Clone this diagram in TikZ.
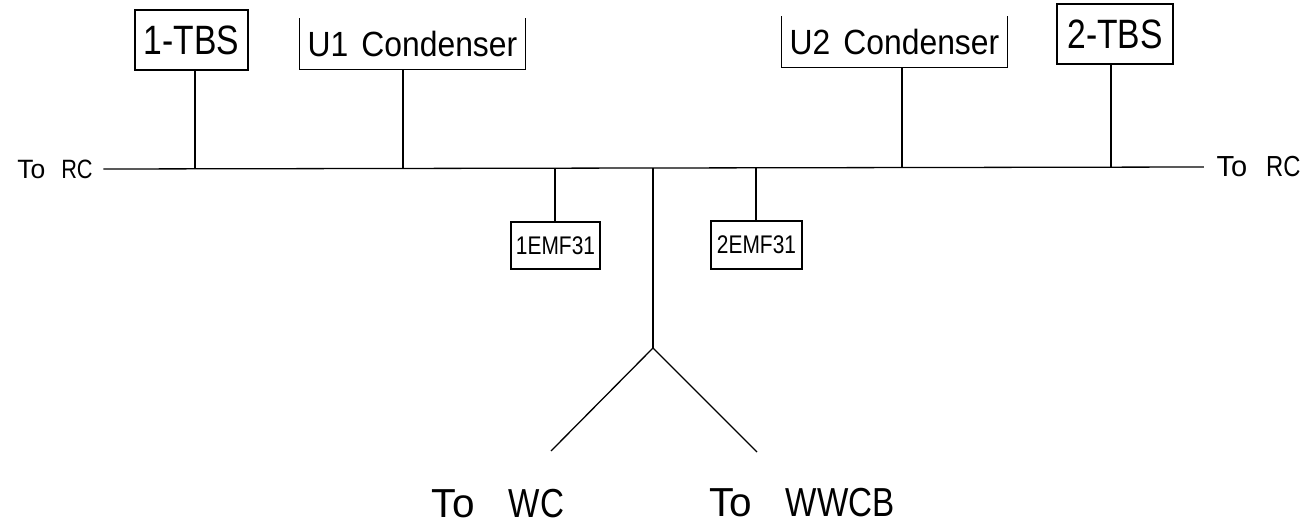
\documentclass[tikz,border=0pt]{standalone}
\usepackage{fontspec}
\setmainfont{Liberation Sans}
\newfontfamily\narrowfont{Liberation Sans}[FakeStretch=0.82]
\newfontfamily\midfont{Liberation Sans}[FakeStretch=0.91]
\begin{document}
\begin{tikzpicture}[x=1pt,y=-1pt,line width=1.3pt,
  boxed/.style={draw,rectangle,inner sep=0pt},
  openbox/.style={rectangle,inner sep=0pt,minimum width=225pt,minimum height=50pt,
     font=\midfont\fontsize{35}{35}\selectfont},
  tbsfont/.style={font=\narrowfont\fontsize{41}{41}\selectfont},
  emffont/.style={font=\narrowfont\fontsize{25.5}{25.5}\selectfont},
  bigtext/.style={inner sep=0pt,font=\fontsize{40.5}{40.5}\selectfont}]
\useasboundingbox (0,0) rectangle (1315,527);

% boxes
\node[boxed,tbsfont,minimum width=113pt,minimum height=60pt] (tbs1) at (191.5,40) {1-TBS};
\node[boxed,tbsfont,minimum width=116pt,minimum height=60pt] (tbs2) at (1115,34) {2-TBS};
\node[openbox] (u1) at (412.5,44) {U1\hspace{13pt}Condenser};
\node[openbox] (u2) at (894.5,42) {U2\hspace{13pt}Condenser};
\draw (u1.north west) -- (u1.south west) -- (u1.south east) -- (u1.north east);
\draw (u2.north west) -- (u2.south west) -- (u2.south east) -- (u2.north east);
\node[boxed,emffont,minimum width=89pt,minimum height=47pt] (emf1) at (555.5,245.5) {1EMF31};
\node[boxed,emffont,minimum width=91pt,minimum height=48pt] (emf2) at (756.5,245) {2EMF31};

% end labels
\node[inner ysep=0pt,inner xsep=10pt,font=\fontsize{26.5}{26.5}\selectfont] (rcl) at (55,169) {To\hspace{16pt}{\narrowfont RC}};
\node[inner ysep=0pt,inner xsep=12pt,font=\fontsize{29}{29}\selectfont] (rcr) at (1258.5,167) {To\hspace{19pt}{\narrowfont RC}};
\node[bigtext] (wc) at (498,504) {To\hspace{34pt}{\narrowfont WC}};
\node[bigtext] (wwcb) at (802,503) {To\hspace{34pt}{\narrowfont WWCB}};

% junctions
\coordinate (j1) at (195,168);
\coordinate (ju1) at (403,168);
\coordinate (je1) at (555,168);
\coordinate (jc) at (653,168);
\coordinate (je2) at (756,168);
\coordinate (ju2) at (902,168);
\coordinate (j2) at (1111,168);
\coordinate (fork) at (653,348);
\coordinate (legl) at (551,451);
\coordinate (legr) at (757,452);

% connectors
\draw (rcl.east) -- (rcr.west);
\draw (tbs1.south -| j1) -- (j1);
\draw (u1.south -| ju1) -- (ju1);
\draw (u2.south -| ju2) -- (ju2);
\draw (tbs2.south -| j2) -- (j2);
\draw (je1) -- (emf1.north -| je1);
\draw (je2) -- (emf2.north -| je2);
\draw (jc) -- (fork);
\draw (legl) -- (fork) -- (legr);
\end{tikzpicture}
\end{document}
